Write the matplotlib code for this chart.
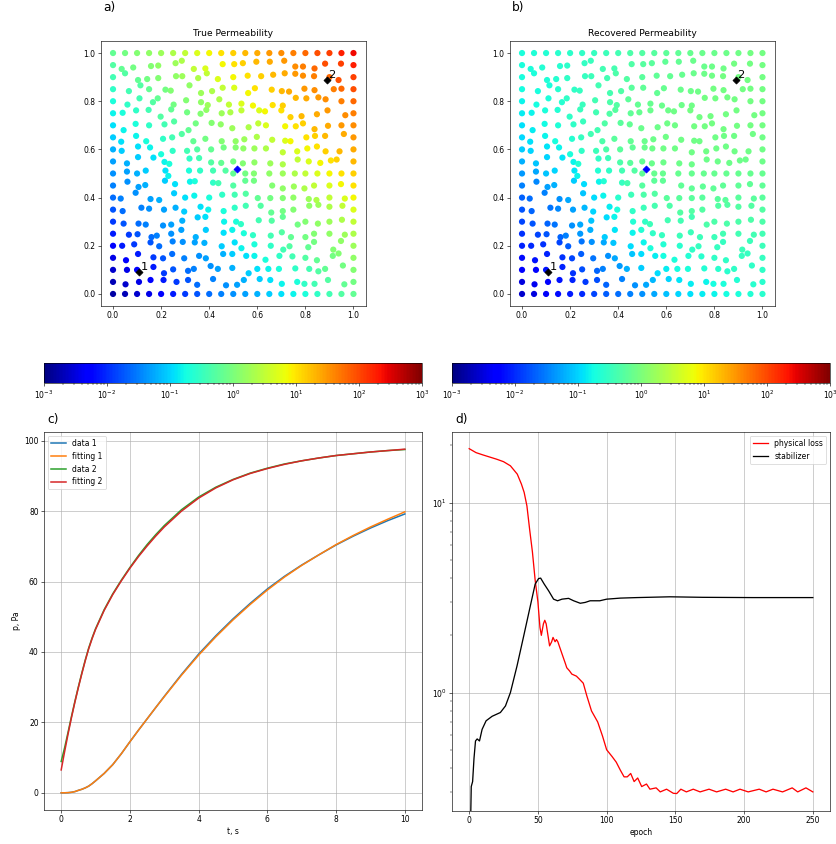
import numpy as np
import matplotlib
matplotlib.use('Agg')
import matplotlib.pyplot as plt
from matplotlib.colors import LogNorm

plt.rcParams['font.family'] = 'DejaVu Sans'

# ---------------- a), b) permeability on collocation points ----------------
n_nodes = 21
node = np.linspace(0.0, 1.0, n_nodes)
jit_unit = 0.002
# shift of interior nodes (i=1..19), rows j=1..19 from bottom; y shifts counted downwards
jit_x = [
    [1, 4, 3, 5, 7, 6, 0, 8, 10, 8, -3, 5, 2, 1, 8, -2, -6, -3, 6],
    [4, 0, 9, 6, 0, 6, -7, 3, -7, -2, 7, 0, -2, -5, 4, 8, 2, -9, 3],
    [2, 2, 9, 4, -2, -2, 4, -7, 4, -2, 2, -6, -8, -4, -2, 0, -1, 7, -6],
    [-6, -6, 3, -4, -1, -5, -5, -10, 1, 3, -8, -6, 3, 4, -8, 6, -7, 8, -1],
    [8, 1, 5, -9, -4, -8, -3, -7, 5, -2, -3, -9, 3, 1, -5, 0, -7, 0, 7],
    [-3, 3, -7, 4, -4, -6, 1, -8, 6, 6, -9, 3, 5, 3, 9, 0, 1, 0, 1],
    [-5, 9, 0, 6, 5, -2, 7, -2, 5, 3, 1, 7, 4, 3, 0, 8, 2, 0, 2],
    [-9, -3, 3, -4, 2, 0, -6, 0, 2, 3, 1, 1, 2, 3, 0, 7, -2, 0, 7],
    [5, 3, -8, 8, 4, 10, -5, 8, -6, 0, 0, -7, 6, 3, 1, -2, -7, 0, -1],
    [4, 0, -7, 9, -10, 8, 6, 8, 9, 0, 0, -7, 0, 3, 3, 0, 0, 0, 0],
    [4, 2, 9, 7, -8, 9, 4, 4, 0, 0, -5, -6, 2, 3, 9, 7, 6, 3, -10],
    [-7, 2, 2, 0, -1, 4, 0, 4, 5, 5, -4, -6, -7, 3, 8, 4, -1, -8, -4],
    [-8, -2, -6, 4, -2, -7, -8, -8, 1, 5, -2, -1, 6, 8, -6, 2, -5, -9, 5],
    [-3, -3, 0, 7, 2, 7, -3, 5, -1, -2, 7, 2, -7, 8, 5, -5, -6, -3, 0],
    [-5, -2, -1, -1, -4, 4, 7, -6, 1, -6, -8, 4, -9, 0, -6, -8, -1, -4, 8],
    [5, 5, 8, -7, 1, 2, 8, -3, -4, -9, -8, -9, 7, 3, 5, 2, 2, -8, 0],
    [8, 7, 0, 9, -5, 9, 8, 6, 3, 2, 6, -5, 5, 1, -9, -2, -6, 9, 0],
    [0, 2, -4, -6, 6, -6, 2, -5, -7, 0, 5, 8, 8, 7, 4, -5, -7, 0, -6],
    [-7, -8, 4, -6, 5, -7, -7, -8, 3, 2, -5, -2, 1, 6, 4, -5, -6, -9, -1],
]
jit_y = [
    [5, 0, -4, -4, 0, -4, 6, -6, 7, 6, -4, -6, -4, 4, 0, 4, 4, -4, 5],
    [0, 0, -6, 7, -1, 2, -2, -8, -2, -4, 7, -2, -2, -2, -3, -2, 3, -2, -9],
    [5, -8, -1, 1, -8, 1, -4, 1, -8, -8, -4, -4, 4, -4, -3, 0, 5, -4, -9],
    [0, -3, -7, 1, -9, -8, -7, -6, 1, -7, 5, -3, 0, 8, 1, 3, -8, 8, -10],
    [2, 1, 7, 4, 0, -8, 7, -8, -2, -8, -1, 3, 4, -3, 7, 7, 0, 0, 2],
    [4, 4, 6, 8, 6, -2, -9, -10, 0, 0, 5, -3, -2, -10, 6, 0, 4, 0, -4],
    [3, -4, -2, 0, -4, 4, -6, 0, 3, -4, -8, -8, 6, 3, 0, -8, -10, -6, -8],
    [2, -10, 3, 5, -9, 0, -4, 0, -6, -6, -8, 1, 1, 1, 0, 3, 5, 0, 2],
    [-8, 3, -1, -10, -3, -8, -9, -6, -5, 0, -10, -10, 0, 6, 2, 6, 0, 0, -3],
    [-4, 0, -6, -6, 5, -6, -6, -6, -6, 0, 0, 0, 0, 0, 0, 0, 0, 0, 0],
    [4, -9, -8, 1, 5, -6, -7, 2, 3, 0, 4, 2, 4, 6, -4, 0, 3, -2, -4],
    [3, -6, -4, 10, 3, 3, 0, 0, -4, -4, -2, -2, -2, 6, 4, -2, -6, 4, 4],
    [9, -3, 8, 3, 0, -7, 8, 3, 8, 8, 4, -1, 5, 7, 8, 0, -3, -3, -7],
    [10, -3, 0, -2, -8, 10, -4, -5, -2, 6, 4, -4, 0, 2, 2, -4, 8, 1, 0],
    [-1, -6, -7, 7, -8, -2, 1, -7, 0, -2, -6, -6, -4, -6, 8, 6, 2, -6, 4],
    [7, -6, 2, -6, 7, -2, 2, 8, -4, 7, 5, 9, 8, 9, -7, -6, -8, -4, 0],
    [4, -8, 0, 1, 3, -8, 8, 4, -3, -3, 8, -2, 1, 4, 5, -1, 2, 0, -1],
    [-8, 6, 4, 2, -2, -2, 2, -8, 4, 0, -3, -2, -5, -8, -7, -3, -2, 0, 6],
    [8, 5, 2, 1, -4, -9, 8, 7, -2, -2, -4, -7, -7, -9, 3, 3, 7, -3, -3],
]

# log10 of true permeability along the diagonals i+j = 0..40
true_logk_diag = [-2.8, -2.7, -2.6, -2.45, -2.3, -2.1, -1.9, -1.75, -1.6, -1.5,
                  -1.4, -1.3, -1.2, -1.05, -0.93, -0.8, -0.68, -0.55, -0.42, -0.3,
                  -0.18, -0.06, 0.06, 0.15, 0.24, 0.36, 0.51, 0.7, 0.87, 1.03,
                  1.14, 1.28, 1.38, 1.49, 1.57, 1.65, 1.8, 1.96, 2.05, 2.25, 2.4]

# log10 of recovered permeability, rows j=0..20 (bottom to top), columns i=0..20
rec_logk = [
    [-2.6, -2.5, -2.35, -2.2, -2.1, -2.0, -1.85, -1.7, -1.6, -1.5, -1.4, -1.25, -1.12, -1.0, -0.93, -0.85, -0.8, -0.75, -0.7, -0.65, -0.6],
    [-2.5, -2.4, -2.3, -2.15, -2.05, -1.9, -1.8, -1.65, -1.5, -1.4, -1.25, -1.15, -1.0, -0.9, -0.85, -0.8, -0.75, -0.7, -0.65, -0.6, -0.6],
    [-2.3, -2.25, -2.15, -2.05, -1.95, -1.8, -1.65, -1.5, -1.35, -1.2, -1.05, -0.95, -0.85, -0.75, -0.7, -0.65, -0.6, -0.6, -0.55, -0.55, -0.55],
    [-2.2, -2.15, -2.05, -1.95, -1.85, -1.7, -1.55, -1.4, -1.25, -1.1, -0.95, -0.85, -0.75, -0.7, -0.65, -0.6, -0.55, -0.55, -0.5, -0.5, -0.5],
    [-2.05, -2.0, -1.95, -1.85, -1.7, -1.55, -1.4, -1.25, -1.1, -0.95, -0.8, -0.7, -0.65, -0.6, -0.55, -0.5, -0.5, -0.5, -0.45, -0.45, -0.45],
    [-1.95, -1.85, -1.75, -1.65, -1.5, -1.35, -1.2, -1.05, -0.9, -0.8, -0.65, -0.55, -0.5, -0.45, -0.45, -0.45, -0.45, -0.4, -0.4, -0.4, -0.4],
    [-1.85, -1.75, -1.65, -1.55, -1.4, -1.25, -1.1, -0.95, -0.8, -0.65, -0.55, -0.45, -0.4, -0.4, -0.4, -0.35, -0.35, -0.35, -0.35, -0.35, -0.35],
    [-1.75, -1.65, -1.55, -1.45, -1.3, -1.15, -1.0, -0.85, -0.7, -0.55, -0.45, -0.38, -0.33, -0.3, -0.3, -0.3, -0.3, -0.3, -0.3, -0.3, -0.3],
    [-1.67, -1.6, -1.5, -1.4, -1.25, -1.1, -0.95, -0.8, -0.6, -0.45, -0.35, -0.3, -0.25, -0.25, -0.25, -0.25, -0.25, -0.25, -0.25, -0.25, -0.25],
    [-1.5, -1.45, -1.3, -1.2, -1.05, -0.95, -0.8, -0.65, -0.5, -0.38, -0.28, -0.22, -0.2, -0.2, -0.2, -0.2, -0.2, -0.2, -0.2, -0.2, -0.2],
    [-1.35, -1.25, -1.1, -1.0, -0.9, -0.8, -0.65, -0.55, -0.42, -0.3, -0.2, -0.15, -0.15, -0.15, -0.15, -0.15, -0.15, -0.15, -0.15, -0.15, -0.15],
    [-1.2, -1.1, -1.0, -0.9, -0.8, -0.65, -0.55, -0.45, -0.35, -0.25, -0.18, -0.12, -0.1, -0.1, -0.1, -0.1, -0.1, -0.1, -0.1, -0.1, -0.1],
    [-1.05, -1.0, -0.9, -0.8, -0.7, -0.55, -0.45, -0.35, -0.25, -0.2, -0.12, -0.1, -0.08, -0.08, -0.08, -0.08, -0.08, -0.08, -0.08, -0.08, -0.08],
    [-0.98, -0.92, -0.82, -0.72, -0.62, -0.5, -0.42, -0.33, -0.25, -0.18, -0.12, -0.1, -0.08, -0.08, -0.08, -0.08, -0.08, -0.08, -0.08, -0.08, -0.08],
    [-0.92, -0.86, -0.76, -0.66, -0.56, -0.48, -0.4, -0.32, -0.25, -0.18, -0.12, -0.1, -0.08, -0.08, -0.06, -0.06, -0.06, -0.06, -0.06, -0.06, -0.06],
    [-0.85, -0.8, -0.7, -0.65, -0.55, -0.48, -0.4, -0.32, -0.28, -0.2, -0.15, -0.12, -0.1, -0.08, -0.06, -0.06, -0.06, -0.06, -0.06, -0.06, -0.06],
    [-0.8, -0.75, -0.7, -0.62, -0.55, -0.48, -0.4, -0.35, -0.3, -0.22, -0.18, -0.15, -0.12, -0.1, -0.08, -0.06, -0.06, -0.06, -0.06, -0.06, -0.06],
    [-0.75, -0.72, -0.68, -0.62, -0.55, -0.5, -0.42, -0.38, -0.32, -0.25, -0.2, -0.18, -0.15, -0.12, -0.1, -0.08, -0.06, -0.06, -0.06, -0.06, -0.06],
    [-0.72, -0.7, -0.66, -0.62, -0.56, -0.5, -0.45, -0.4, -0.35, -0.3, -0.25, -0.2, -0.18, -0.15, -0.12, -0.1, -0.08, -0.06, -0.06, -0.06, -0.06],
    [-0.7, -0.68, -0.65, -0.62, -0.58, -0.52, -0.48, -0.42, -0.38, -0.32, -0.28, -0.24, -0.2, -0.18, -0.14, -0.12, -0.1, -0.08, -0.06, -0.06, -0.06],
    [-0.68, -0.66, -0.64, -0.6, -0.58, -0.55, -0.5, -0.45, -0.4, -0.35, -0.3, -0.26, -0.22, -0.2, -0.16, -0.14, -0.12, -0.1, -0.08, -0.06, -0.06],
]

probe_x = [0.11, 0.89]
probe_y = [0.09, 0.89]
probe_lbl = ['1', '2']
source_x, source_y = 0.515, 0.52

# ---------------- c) pressure curves ----------------
t_pts = [0, 0.1, 0.2, 0.3, 0.4, 0.5, 0.6, 0.7, 0.8, 0.9, 1.0, 1.25, 1.5, 1.75, 2, 2.25, 2.5,
         2.75, 3, 3.5, 4, 4.5, 5, 5.5, 6, 6.5, 7, 7.5, 8, 8.5, 9, 9.5, 10]
data1 = [0, 0.01, 0.05, 0.15, 0.35, 0.7, 1.0, 1.4, 1.9, 2.6, 3.4, 5.5, 8.0, 11.1, 14.5, 17.8, 21.0,
         24.2, 27.4, 33.6, 39.4, 44.6, 49.4, 53.8, 57.9, 61.5, 64.7, 67.6, 70.4, 72.9, 75.2, 77.3, 79.2]
fit1 = [0, 0.01, 0.05, 0.15, 0.35, 0.7, 1.0, 1.4, 1.9, 2.6, 3.4, 5.5, 8.0, 11.1, 14.5, 17.8, 21.0,
        24.2, 27.3, 33.4, 39.1, 44.3, 49.1, 53.5, 57.6, 61.3, 64.6, 67.6, 70.5, 73.1, 75.5, 77.7, 79.8]
data2 = [8.9, 12.8, 17.2, 21.7, 26.0, 30.1, 34.0, 37.7, 41.1, 44.0, 46.6, 52.0, 56.5, 60.4, 64.0, 67.4,
         70.5, 73.3, 75.9, 80.4, 84.0, 86.8, 89.0, 90.8, 92.2, 93.4, 94.3, 95.1, 95.8, 96.3, 96.8, 97.2, 97.5]
fit2 = [6.5, 11.7, 16.7, 21.4, 25.8, 29.9, 33.8, 37.5, 40.9, 43.8, 46.4, 51.8, 56.3, 60.2, 63.8, 67.1,
        70.1, 72.9, 75.5, 80.0, 83.7, 86.6, 88.9, 90.7, 92.1, 93.3, 94.3, 95.1, 95.8, 96.3, 96.8, 97.2, 97.6]

# ---------------- d) training losses ----------------
phys_epoch = [0, 5, 10, 20, 25, 30, 35, 38, 40, 42, 44, 46, 48, 50, 51.5, 52.5, 54, 55, 56, 58.5,
              60, 61, 62.5, 63.5, 64.5, 67.5, 70, 71, 73, 74.7, 78, 80, 83, 85.6, 89, 93.5, 97,
              100, 104, 107, 110, 112.7, 115, 117.5, 120, 122.6, 125.5, 129, 131.5, 136, 139,
              143.6, 148.5, 151, 154, 158, 163, 168, 174.5, 180, 186.6, 192, 197, 203, 211, 216,
              221, 228, 235, 239, 245, 250]
phys_loss = [19.2, 18.3, 17.8, 16.9, 16.4, 15.6, 14.1, 12.5, 11.3, 9.6, 7.2, 5.5, 3.9, 3.0, 2.2, 2.0,
             2.3, 2.4, 2.3, 1.76, 1.85, 1.95, 1.85, 1.9, 1.85, 1.6, 1.42, 1.35, 1.3, 1.25, 1.22,
             1.18, 1.12, 0.96, 0.8, 0.7, 0.59, 0.5, 0.46, 0.43, 0.39, 0.36, 0.36, 0.375, 0.34,
             0.355, 0.32, 0.33, 0.31, 0.315, 0.30, 0.31, 0.295, 0.294, 0.31, 0.30, 0.31, 0.30,
             0.31, 0.30, 0.31, 0.30, 0.31, 0.30, 0.31, 0.30, 0.31, 0.30, 0.315, 0.30, 0.315, 0.30]
stab_epoch = [0, 1, 1.5, 2.5, 3.5, 4.6, 5.8, 7.5, 9.4, 12.3, 16.7, 22.7, 26.4, 30, 34.8, 39.7,
              44.5, 48, 50.5, 52, 54.6, 57.8, 61.4, 64.3, 67.5, 72.3, 76, 80.8, 84.4, 88, 95,
              100, 110, 122, 146, 170, 206, 250]
stab_loss = [0.01, 0.2, 0.32, 0.34, 0.45, 0.556, 0.57, 0.556, 0.64, 0.71, 0.75, 0.785, 0.85, 1.0,
             1.38, 1.99, 2.86, 3.72, 3.98, 4.0, 3.72, 3.43, 3.1, 3.04, 3.1, 3.13, 3.04, 2.95,
             2.98, 3.04, 3.04, 3.1, 3.14, 3.16, 3.19, 3.17, 3.16, 3.16]

W, H = 836, 844
DPI = 55
fig = plt.figure(figsize=(W / DPI, H / DPI), dpi=DPI)

def px_axes(x0, y0, x1, y1):
    return fig.add_axes([x0 / W, 1 - y1 / H, (x1 - x0) / W, (y1 - y0) / H])

# node coordinates
X = np.tile(node, (n_nodes, 1))
Y = np.tile(node[:, None], (1, n_nodes))
X[1:-1, 1:-1] += np.array(jit_x) * jit_unit
Y[1:-1, 1:-1] -= np.array(jit_y) * jit_unit
I, J = np.meshgrid(np.arange(n_nodes), np.arange(n_nodes))
true_logk = np.array(true_logk_diag)[I + J]

norm = LogNorm(vmin=1e-3, vmax=1e3)
panels = [(101, 510), ('True Permeability', 'Recovered Permeability'), (true_logk, np.array(rec_logk))]
cb_x = [(44, 422), (452, 830)]
for k in range(2):
    x0 = panels[0][k]
    ax = px_axes(x0, 41, x0 + 264.5, 306)
    sc = ax.scatter(X.ravel(), Y.ravel(), c=10.0 ** panels[2][k].ravel(), cmap='jet',
                    norm=norm, s=66, edgecolors='none')
    ax.scatter(probe_x, probe_y, marker='D', c='k', s=42, zorder=3)
    ax.scatter([source_x], [source_y], marker='D', c='b', s=42, zorder=3)
    for px, py, lb in zip(probe_x, probe_y, probe_lbl):
        ax.text(px + 0.006, py + 0.0, lb, fontsize=15, ha='left', va='bottom')
    ax.set_xlim(-0.05, 1.05)
    ax.set_ylim(-0.05, 1.05)
    ax.set_xticks(np.arange(0, 1.01, 0.2))
    ax.set_yticks(np.arange(0, 1.01, 0.2))
    ax.set_title(panels[1][k])
    cax = px_axes(cb_x[k][0], 363, cb_x[k][1], 383)
    fig.colorbar(sc, cax=cax, orientation='horizontal')

# c)
axc = px_axes(44, 432, 422, 810)
axc.plot(t_pts, data1, lw=2, label='data 1')
axc.plot(t_pts, fit1, lw=2, label='fitting 1')
axc.plot(t_pts, data2, lw=2, label='data 2')
axc.plot(t_pts, fit2, lw=2, label='fitting 2')
axc.set_xlabel('t, s')
axc.set_ylabel('p, Pa')
axc.grid(True)
axc.legend(loc='upper left')

# d)
axd = px_axes(452, 432, 830, 811)
axd.plot(phys_epoch, phys_loss, color='r', lw=1.7, label='physical loss')
axd.plot(stab_epoch, stab_loss, color='k', lw=1.7, label='stabilizer')
axd.set_yscale('log')
axd.set_ylim(0.238, 23.5)
axd.set_xlim(-12.5, 262.5)
axd.set_xlabel('epoch')
axd.grid(True)
axd.legend(loc='upper right')

for lbl, x, y in [('a)', 103, 8), ('b)', 512, 8), ('c)', 47, 419), ('d)', 455, 419)]:
    fig.text(x / W, 1 - y / H, lbl, fontsize=16, ha='left', va='center')

fig.savefig('out.png', dpi=DPI)
